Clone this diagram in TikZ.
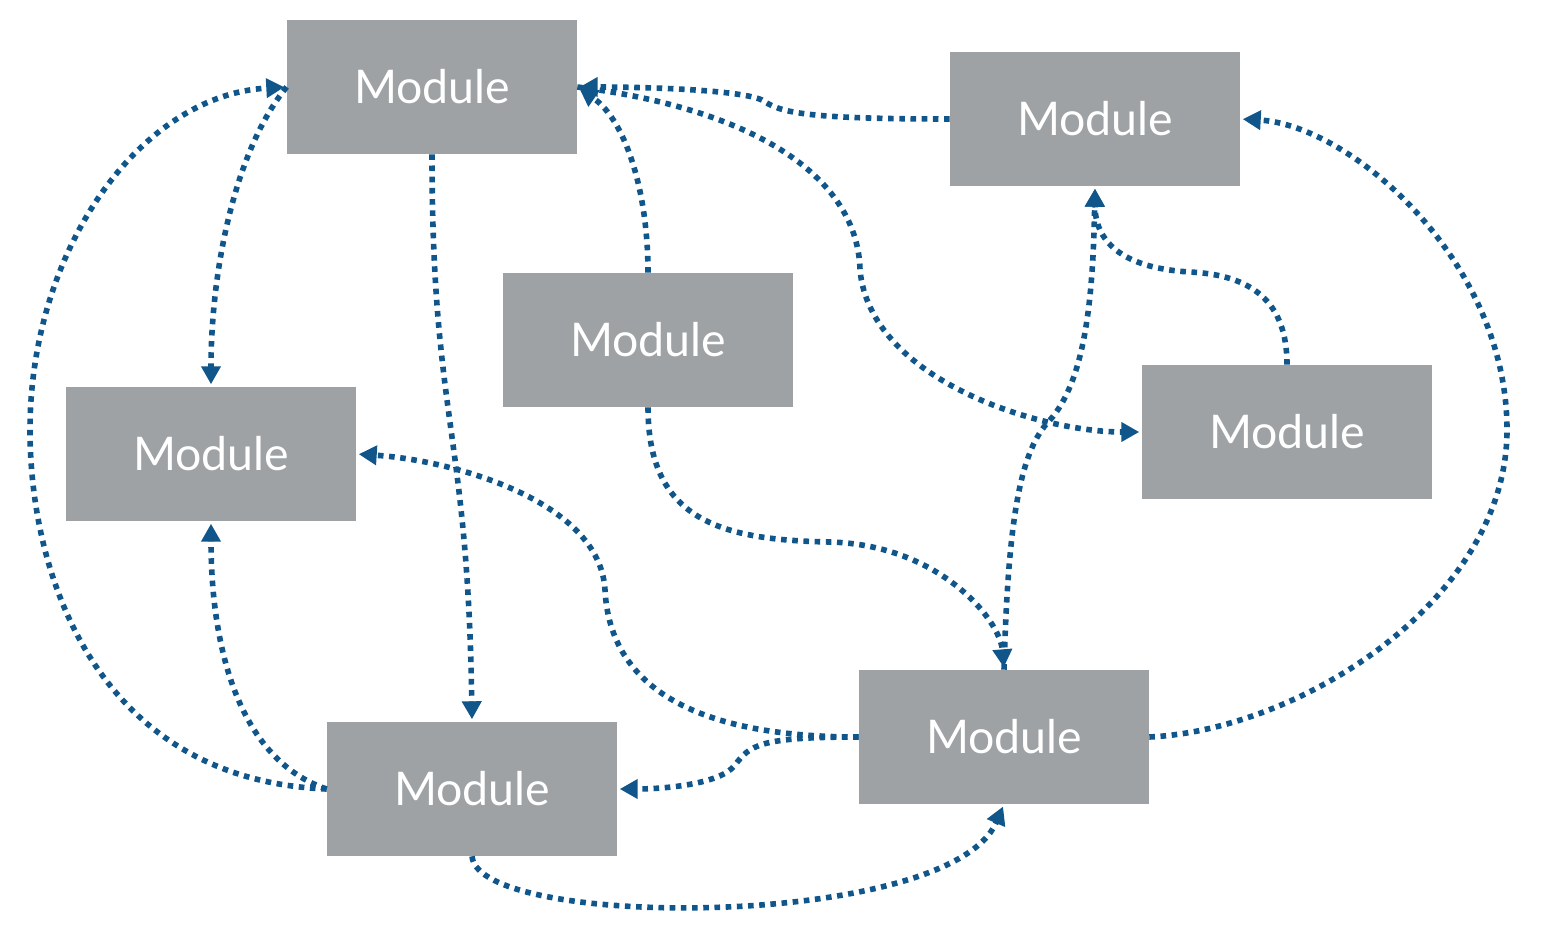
\documentclass[tikz,border=0pt]{standalone}
\usepackage{fontspec}
\newfontfamily\modfont{Lato}
\usetikzlibrary{arrows.meta}
\definecolor{boxgray}{RGB}{158,162,164}
\definecolor{linkblue}{RGB}{16,86,138}
\tikzset{
  module/.style={fill=boxgray, draw=none, minimum width=7.25cm, minimum height=3.35cm,
    inner sep=0pt, text=white, font=\modfont\fontsize{33}{40}\selectfont},
  conn/.style={draw=linkblue, line width=0.14cm, dash pattern=on 0.14cm off 0.14cm},
  arr/.style={-{Triangle[length=0.45cm,width=0.47cm]}, shorten >=0.06cm},
}
\begin{document}
\begin{tikzpicture}[x=0.025cm,y=-0.025cm]
\useasboundingbox (0,0) rectangle (1542,939);
\node[module] (A) at (432,87) {Module};
\node[module] (B) at (1095,119) {Module};
\node[module] (C) at (648,340) {Module};
\node[module] (D) at (211,454) {Module};
\node[module] (E) at (1287,432) {Module};
\node[module] (F) at (1004,737) {Module};
\node[module] (G) at (472,789) {Module};
% A -> D
\draw[conn,arr] (A.west) .. controls (235,150) and (211,270) .. (D.north);
% G -> A (big arc)
\draw[conn,arr] (G.west) .. controls (100,780) and (30,580) .. (30,430) .. controls (30,250) and (140,95) .. (A.west);
% G -> D
\draw[conn,arr] (G.west) .. controls (240,760) and (211,650) .. (D.south);
% A -> G
\draw[conn,arr] (A.south) .. controls (432,420) and (468,430) .. (G.north);
% C -> A
\draw[conn,arr] (C.north) .. controls (648,190) and (625,120) .. (A.east);
% B -> A
\draw[conn,arr] (B.west) .. controls (800,119) and (780,112) .. (762,100) .. controls (740,90) and (650,87) .. (A.east);
% A -> E
\draw[conn,arr] (A.east) .. controls (760,110) and (858,180) .. (860,270) .. controls (870,380) and (1040,432) .. (E.west);
% E -> B
\draw[conn,arr] (E.north) .. controls (1287,300) and (1250,275) .. (1190,272) .. controls (1120,268) and (1095,240) .. (B.south);
% F -> B
\draw[conn,arr] (F.north) .. controls (1008,520) and (1020,450) .. (1050,420) .. controls (1085,380) and (1093,300) .. (B.south);
% C -> F
\draw[conn,arr] (C.south) .. controls (648,520) and (720,540) .. (830,542) .. controls (940,545) and (1000,620) .. (F.north);
% F -> B (right arc)
\draw[conn,arr] (F.east) .. controls (1300,730) and (1507,600) .. (1507,430) .. controls (1507,260) and (1350,125) .. (B.east);
% F -> D
\draw[conn,arr] (F.west) .. controls (700,737) and (610,690) .. (605,590) .. controls (600,500) and (450,460) .. (D.east);
% F -> G
\draw[conn,arr] (F.west) .. controls (760,737) and (750,745) .. (735,765) .. controls (720,785) and (660,789) .. (G.east);
% G -> F
\draw[conn,arr] (G.south) .. controls (478,930) and (950,930) .. (F.south);
\end{tikzpicture}
\end{document}
